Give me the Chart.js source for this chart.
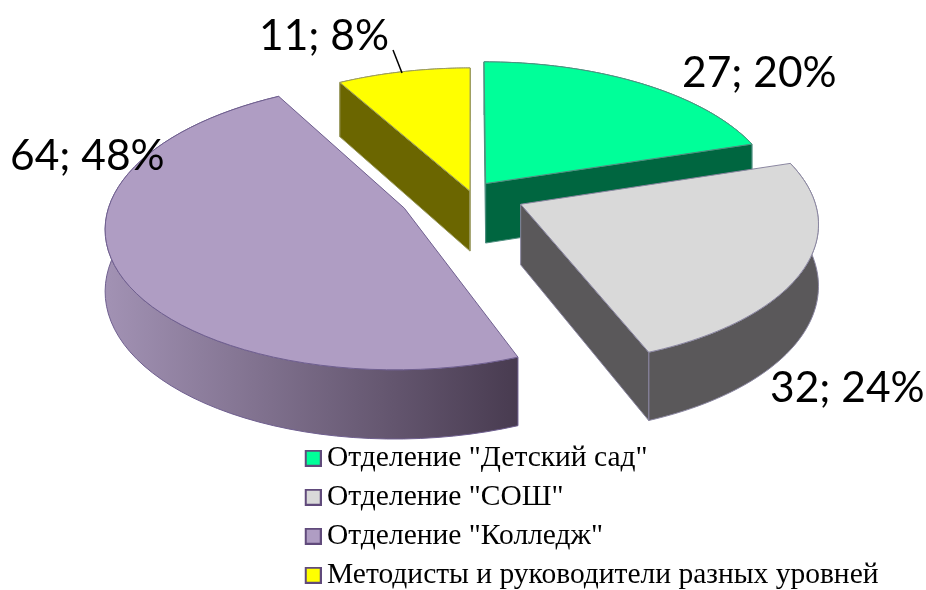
<!DOCTYPE html>
<html>
<head>
<meta charset="utf-8">
<style>
  html, body { margin: 0; padding: 0; background: #fff; }
  canvas { display: block; }
</style>
<script src="https://cdn.jsdelivr.net/npm/chart.js@4/dist/chart.umd.min.js"></script>
</head>
<body>
<canvas id="pie" width="926" height="590"></canvas>
<script>
const categories = ['Отделение "Детский сад"', 'Отделение "СОШ"', 'Отделение "Колледж"', 'Методисты и руководители разных уровней'];
const values = [27, 32, 64, 11];

const topColors = ['#00ff99', '#d9d9d9', '#af9dc3', '#ffff00'];
const wallColors = ['#006640', '#5a585a', '#5a4d66', '#6b6600'];
// outer wall shading, left to right
const rimColors = [['#006640', '#006640'], ['#5a585a', '#5a585a'], ['#a292b4', '#483b50'], ['#6b6600', '#6b6600']];
const edgeColors = ['#4f8f80', '#8a86a0', '#6f5f8f', '#9a9a60'];
const explode = [100, 218, 292, 16];

// where the "value; percent" text sits
const labelPos = [[682, 87], [770, 402], [10, 170], [259, 50]];
const leader = [[393, 50], [402, 73]];

const squash = 0.474;
const persp = 0.12;
const depth = 60;

// flat pie point -> tilted view, near side bigger than far side
function project(el, u, v, d) {
  const n = v / el.outerRadius;
  const w = 1 - persp * n;
  return [el.x + u / w, el.y + el.outerRadius * squash * n / w + d / w];
}

function wedgePoints(el, off, d) {
  const pts = [];
  const steps = 60;
  for (let i = 0; i <= steps; i++) {
    const a = el.startAngle + (el.endAngle - el.startAngle) * i / steps;
    pts.push(project(el, off[0] + Math.cos(a) * el.outerRadius, off[1] + Math.sin(a) * el.outerRadius, d));
  }
  return pts;
}

function fillPath(ctx, pts, fill, stroke) {
  ctx.beginPath();
  pts.forEach((p, i) => i ? ctx.lineTo(p[0], p[1]) : ctx.moveTo(p[0], p[1]));
  ctx.closePath();
  ctx.fillStyle = fill;
  ctx.fill();
  ctx.lineWidth = 1;
  ctx.strokeStyle = stroke;
  ctx.stroke();
}

// a radial wall only shows when its wedge lies above the edge on screen
function wallVisible(apex, rim, mid) {
  const ex = rim[0] - apex[0];
  const ey = rim[1] - apex[1];
  const cross = ex * (mid[1] - apex[1]) - ey * (mid[0] - apex[0]);
  return (cross < 0) === (ex > 0);
}

const pie3d = {
  id: 'pie3d',
  afterLayout(chart) {
    // legend column under the pie
    const legend = chart.legend;
    legend.left = 301.75;
    legend.right = 900;
    legend.top = 434;
    legend.bottom = 620;
  },
  beforeDatasetDraw(chart, args) {
    const ctx = chart.ctx;
    args.meta.data.forEach((el, i) => {
      const mid = (el.startAngle + el.endAngle) / 2;
      const shift = (el.options.offset || 0) / 4;
      const off = [Math.cos(mid) * shift, Math.sin(mid) * shift];
      const apexTop = project(el, off[0], off[1], 0);
      const apexLow = project(el, off[0], off[1], depth);
      const rimTop = wedgePoints(el, off, 0);
      const rimLow = wedgePoints(el, off, depth);
      const last = rimTop.length - 1;
      const rimMid = rimTop[Math.floor(last / 2)];

      // outer wall
      const xs = rimTop.map(p => p[0]);
      const grad = ctx.createLinearGradient(Math.min(...xs), 0, Math.max(...xs), 0);
      grad.addColorStop(0, rimColors[i][0]);
      grad.addColorStop(1, rimColors[i][1]);
      fillPath(ctx, rimTop.concat(rimLow.slice().reverse()), grad, edgeColors[i]);

      // radial walls
      [0, last].forEach(k => {
        if (wallVisible(apexTop, rimTop[k], rimMid)) {
          fillPath(ctx, [apexTop, rimTop[k], rimLow[k], apexLow], wallColors[i], edgeColors[i]);
        }
      });

      // top face
      fillPath(ctx, [apexTop].concat(rimTop), topColors[i], edgeColors[i]);
    });
    return false;
  },
  afterDatasetsDraw(chart) {
    const ctx = chart.ctx;
    const total = values.reduce((a, b) => a + b, 0);
    ctx.save();
    ctx.beginPath();
    ctx.moveTo(leader[0][0], leader[0][1]);
    ctx.lineTo(leader[1][0], leader[1][1]);
    ctx.lineWidth = 1.5;
    ctx.strokeStyle = '#000';
    ctx.stroke();
    ctx.font = '42.5px Lato';
    ctx.fillStyle = '#000';
    ctx.textAlign = 'left';
    ctx.textBaseline = 'alphabetic';
    values.forEach((v, i) => {
      ctx.fillText(v + '; ' + Math.round(v / total * 100) + '%', labelPos[i][0], labelPos[i][1]);
    });
    ctx.restore();
  }
};

// little square for the legend, wider than the box slot so the text sits close
function legendSwatch(color) {
  const c = document.createElement('canvas');
  c.width = 20;
  c.height = 17;
  const g = c.getContext('2d');
  g.fillStyle = color;
  g.fillRect(3, 0, 17, 17);
  g.lineWidth = 2;
  g.strokeStyle = '#604a7b';
  g.strokeRect(4, 1, 15, 15);
  return c;
}

new Chart(document.getElementById('pie'), {
  type: 'pie',
  data: {
    labels: categories,
    datasets: [{
      data: values,
      backgroundColor: topColors,
      offset: explode,
      radius: 292,
      borderWidth: 1
    }]
  },
  plugins: [pie3d],
  options: {
    responsive: false,
    animation: false,
    layout: { padding: { left: 16, bottom: 204 } },
    plugins: {
      tooltip: { enabled: false },
      legend: {
        position: 'chartArea',
        align: 'start',
        labels: {
          usePointStyle: true,
          boxWidth: 1,
          padding: 9.5,
          color: '#000',
          font: { family: '"Liberation Serif"', size: 29.5 },
          generateLabels: () => categories.map((text, i) => ({
            text: text,
            fillStyle: topColors[i],
            strokeStyle: '#604a7b',
            pointStyle: legendSwatch(topColors[i]),
            fontColor: '#000',
            hidden: false,
            index: i
          }))
        }
      }
    }
  }
});
</script>
</body>
</html>
